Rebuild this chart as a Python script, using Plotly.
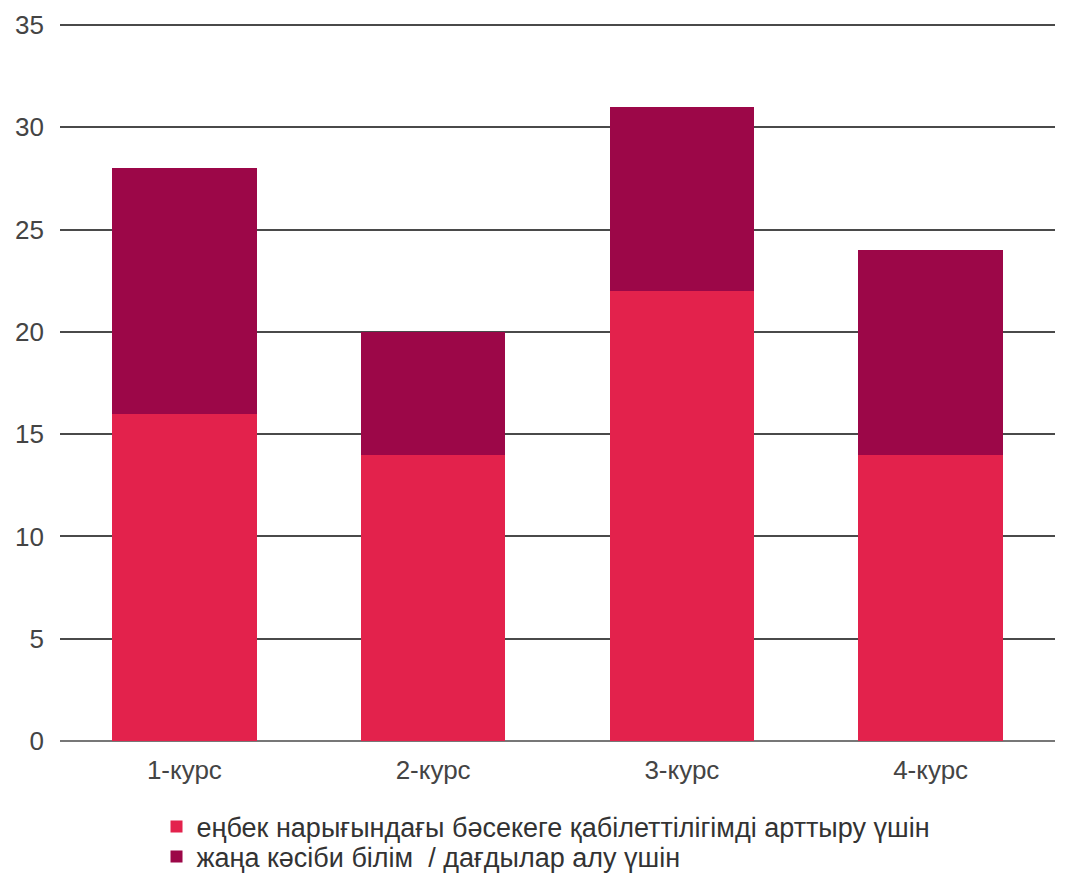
import plotly.graph_objects as go

categories = ["1-курс", "2-курс", "3-курс", "4-курс"]
series1_name = "еңбек нарығындағы бәсекеге қабілеттілігімді арттыру үшін"
series1 = [16, 14, 22, 14]
series2_name = "жаңа кәсіби білім  / дағдылар алу үшін"
series2 = [12, 6, 9, 10]
y_ticks = [0, 5, 10, 15, 20, 25, 30, 35]

fig = go.Figure()
fig.add_trace(go.Bar(x=categories, y=series1, name=series1_name, legend="legend",
                     marker=dict(color="#E3224C", line=dict(width=0))))
fig.add_trace(go.Bar(x=categories, y=series2, name=series2_name, legend="legend2",
                     marker=dict(color="#9C0748", line=dict(width=0))))

legend_style = dict(orientation="v", xanchor="left", yanchor="middle",
                    font=dict(size=27, color="#333333", family="Liberation Sans, Arial"),
                    itemwidth=30, bgcolor="rgba(0,0,0,0)")

fig.update_layout(
    barmode="stack",
    bargap=0.42,
    width=1068, height=866,
    margin=dict(l=52, r=21, t=13, b=133, autoexpand=False),
    paper_bgcolor="white", plot_bgcolor="white",
    font=dict(family="Liberation Sans, Arial", size=26, color="#444444"),
    showlegend=True,
    legend=dict(x=0.097, y=-0.1195, **legend_style),
    legend2=dict(x=0.097, y=-0.1612, **legend_style),
    xaxis=dict(showgrid=False, showline=False, ticks="", ticklabelstandoff=11),
    yaxis=dict(range=[0, 35.2], tickvals=y_ticks, showgrid=True, gridcolor="#4a4a4a",
               gridwidth=2, zeroline=True, zerolinecolor="#777777", zerolinewidth=2,
               ticks="", ticklabelstandoff=15),
)
fig.write_html("out.html")
